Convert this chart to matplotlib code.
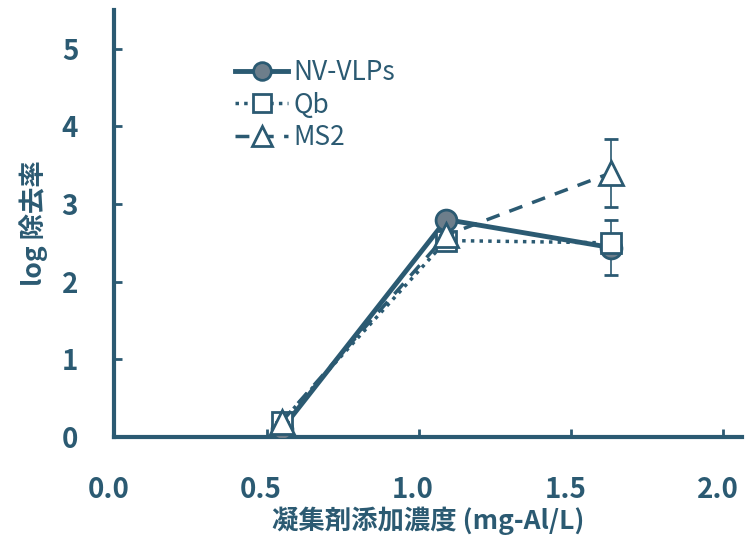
import matplotlib.pyplot as plt
from matplotlib.transforms import ScaledTranslation

plt.rcParams['font.family'] = ['Noto Sans CJK JP', 'DejaVu Sans']

# coagulant dose (mg-Al/L) and log removal
dose = [0.55, 1.09, 1.63]
nv_vlps = [0.1, 2.8, 2.44]
nv_err = [0, 0, 0.36]
qb = [0.2, 2.53, 2.5]
ms2 = [0.2, 2.6, 3.4]
ms2_err = [0, 0, 0.44]

col = '#2b5a72'
fig = plt.figure(figsize=(7.47, 5.47), dpi=100)
ax = fig.add_axes([0.153, 0.201, 0.84, 0.781])

h1 = ax.errorbar(dose, nv_vlps, yerr=nv_err, color=col, lw=3.5, marker='o', ms=15,
                 mfc='#6d7e8b', mec=col, mew=2, ecolor=col, elinewidth=1.2, capsize=5,
                 zorder=3)
h2, = ax.plot(dose, qb, color=col, lw=2.5, ls=(0, (1, 1.5)), marker='s', ms=15,
              mfc='white', mec=col, mew=2, zorder=4)
h3 = ax.errorbar(dose, ms2, yerr=ms2_err, color=col, lw=2.5, ls=(0, (4, 3)), marker='^', ms=17,
                 mfc='white', mec=col, mew=2, ecolor=col, elinewidth=1.2, capsize=5,
                 zorder=5)

ax.set_xlim(0, 2.06)
ax.set_ylim(0, 5.5)
ax.set_xticks([0.0, 0.5, 1.0, 1.5, 2.0])
ax.set_xticklabels(['0.0', '0.5', '1.0', '1.5', '2.0'])
ax.set_yticks([0, 1, 2, 3, 4, 5])
for s in ['top', 'right']:
    ax.spines[s].set_visible(False)
for s in ['left', 'bottom']:
    ax.spines[s].set_linewidth(3)
    ax.spines[s].set_color(col)
ax.tick_params(direction='in', length=6, width=2, color=col, labelcolor=col, labelsize=20)
ax.tick_params(axis='x', pad=28)
ax.tick_params(axis='y', pad=26)
shift = ScaledTranslation(-6 / 100, 0, fig.dpi_scale_trans)
for t in ax.get_xticklabels():
    t.set_transform(t.get_transform() + shift)
for t in ax.get_xticklabels() + ax.get_yticklabels():
    t.set_fontweight('bold')

ax.set_xlabel('凝集剤添加濃度 (mg-Al/L)', fontsize=19, color=col, labelpad=2, fontweight='bold')
ax.set_ylabel('log 除去率', fontsize=19, color=col, labelpad=10, fontweight='bold')

ax.legend([h1.lines[0], h2, h3.lines[0]], ['NV-VLPs', 'Qb', 'MS2'], loc='upper left',
          bbox_to_anchor=(0.155, 0.94), frameon=False, fontsize=19, handlelength=2.0,
          handletextpad=0.2, labelspacing=0.2, labelcolor=col, markerscale=0.85)

fig.savefig('out.png', dpi=100)
